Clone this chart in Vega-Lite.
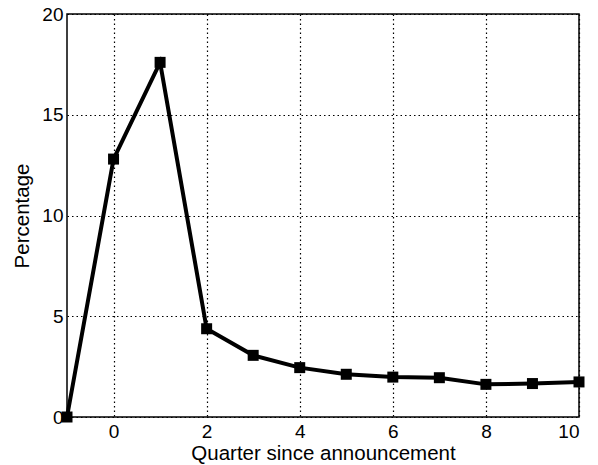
{
  "$schema": "https://vega.github.io/schema/vega-lite/v6.json",
  "autosize": {"type": "none"},
  "padding": {"left": 67, "top": 14, "right": 19, "bottom": 48},
  "width": 512,
  "height": 403,
  "background": "white",
  "config": {
    "view": {"stroke": "black", "strokeWidth": 1.5},
    "font": "Liberation Sans",
    "axis": {
      "domain": false,
      "ticks": false,
      "grid": true,
      "gridColor": "black",
      "gridDash": [1.5, 3],
      "gridWidth": 1.2,
      "gridOpacity": 1,
      "labelFont": "Liberation Sans",
      "labelFontSize": 19,
      "labelColor": "black",
      "titleFont": "Liberation Sans",
      "titleFontSize": 20.5,
      "titleFontWeight": "normal",
      "titleColor": "black"
    }
  },
  "data": {
    "values": [
      {"q": -1, "pct": 0},
      {"q": 0, "pct": 12.8},
      {"q": 1, "pct": 17.6},
      {"q": 2, "pct": 4.38},
      {"q": 3, "pct": 3.06},
      {"q": 4, "pct": 2.45},
      {"q": 5, "pct": 2.12},
      {"q": 6, "pct": 1.98},
      {"q": 7, "pct": 1.95},
      {"q": 8, "pct": 1.62},
      {"q": 9, "pct": 1.66},
      {"q": 10, "pct": 1.74}
    ]
  },
  "encoding": {
    "x": {
      "field": "q",
      "type": "quantitative",
      "scale": {"domain": [-1, 10], "nice": false, "zero": false},
      "axis": {"values": [0, 2, 4, 6, 8, 10], "title": "Quarter since announcement", "labelPadding": 5, "titlePadding": 2}
    },
    "y": {
      "field": "pct",
      "type": "quantitative",
      "scale": {"domain": [0, 20], "nice": false},
      "axis": {"values": [0, 5, 10, 15, 20], "title": "Percentage", "labelPadding": 4, "titlePadding": 9}
    }
  },
  "layer": [
    {"mark": {"type": "line", "color": "black", "strokeWidth": 4, "clip": false}},
    {"mark": {"type": "point", "shape": "square", "filled": true, "color": "black", "opacity": 1, "size": 121, "clip": false}}
  ]
}
